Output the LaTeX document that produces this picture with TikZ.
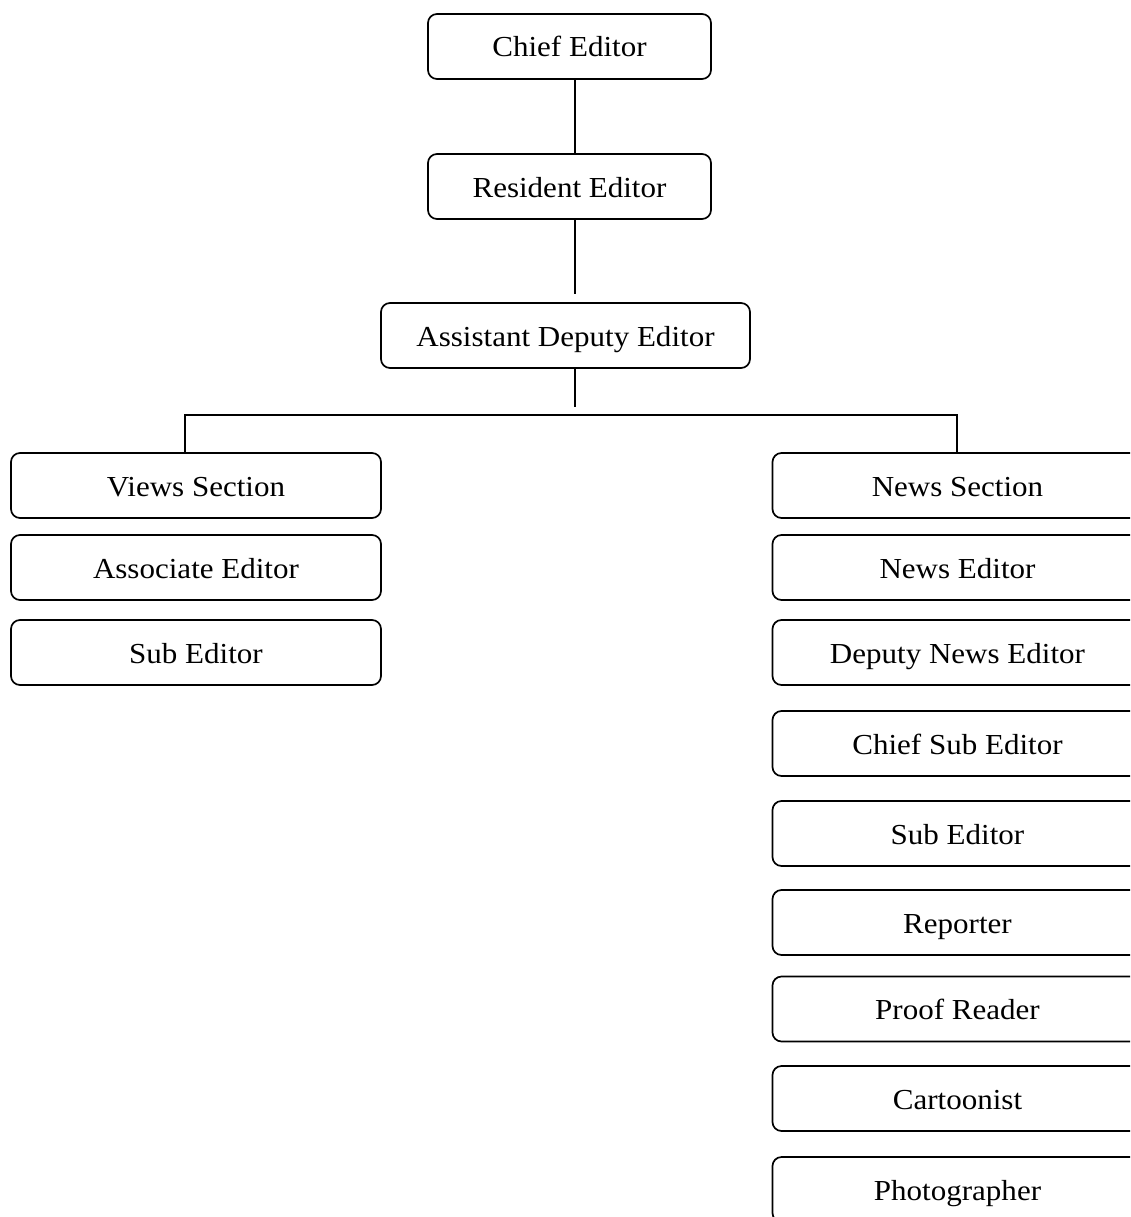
\documentclass[tikz,border=0pt]{standalone}
\usepackage{fontspec}
\setmainfont[FakeStretch=1.07]{Liberation Serif}
\begin{document}
\begin{tikzpicture}[x=1pt,y=-1pt,
  box/.style={draw=black,line width=1.7pt,rounded corners=9pt,minimum height=65pt,inner sep=0pt,text height=21pt,text depth=0pt,font=\fontsize{29}{32}\selectfont,text=black},
  topbox/.style={box,minimum width=283pt},
  sidebox/.style={box,minimum width=370pt},
  conn/.style={draw=black,line width=2pt}]
\useasboundingbox (0,0) rectangle (1130,1217);
\clip (0,0) rectangle (1130,1217);
\fill[white] (0,0) rectangle (1130,1217);
% top chain
\node[topbox] (ce) at (569.5,46.5) {Chief Editor};
\node[topbox] (re) at (569.5,186.5) {Resident Editor};
\node[box,minimum width=369pt] (ad) at (565.5,335.5) {Assistant Deputy Editor};
% left column
\node[sidebox] (vs) at (196,485.5) {Views Section};
\node[sidebox] (ae) at (196,567.5) {Associate Editor};
\node[sidebox] (se1) at (196,652.5) {Sub Editor};
% right column
\node[sidebox] (ns) at (957.5,485.5) {News Section};
\node[sidebox] (ne) at (957.5,567.5) {News Editor};
\node[sidebox] (dne) at (957.5,652.5) {Deputy News Editor};
\node[sidebox] (cse) at (957.5,743.5) {Chief Sub Editor};
\node[sidebox] (se2) at (957.5,833.5) {Sub Editor};
\node[sidebox] (rp) at (957.5,922.5) {Reporter};
\node[sidebox] (pr) at (957.5,1009) {Proof Reader};
\node[sidebox] (ct) at (957.5,1098.5) {Cartoonist};
\node[sidebox] (ph) at (957.5,1189.5) {Photographer};
% connectors
\coordinate (c1) at (574.5,294);
\coordinate (c2) at (574.5,407);
\coordinate (hl) at (185,415);
\coordinate (hr) at (957,415);
\draw[conn] ([xshift=5pt]ce.south) -- ([xshift=5pt]re.north);
\draw[conn] ([xshift=5pt]re.south) -- (c1);
\draw[conn] (ad.south -| c2) -- (c2);
\draw[conn] (vs.north -| hl) -- (hl) -- (hr) -- (ns.north -| hr);
\end{tikzpicture}
\end{document}
